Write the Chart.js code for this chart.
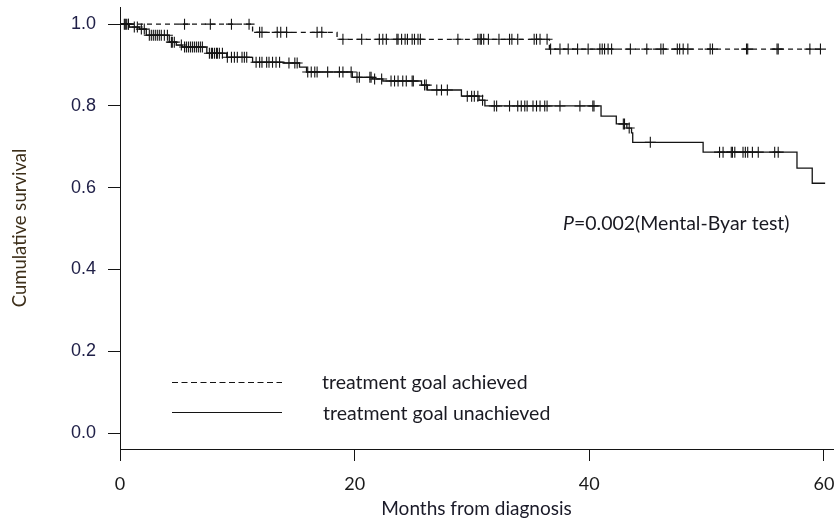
<!DOCTYPE html>
<html>
<head>
<meta charset="utf-8">
<title>Cumulative survival by treatment goal</title>
<script src="https://cdn.jsdelivr.net/npm/chart.js@4.4.1/dist/chart.umd.min.js"></script>
<style>
  html, body { margin: 0; padding: 0; background: #fff; }
  #wrap { width: 835px; height: 524px; }
</style>
</head>
<body>
<div id="wrap"><canvas id="kmChart" width="835" height="524"></canvas></div>
<script>
// axis ticks
const monthTicks = [0, 20, 40, 60];
const survivalTicks = [0, 0.2, 0.4, 0.6, 0.8, 1.0];

// treatment goal achieved: step times (months) and survival level after each step
const achievedTimes = [0, 11.3, 18.5, 36.6, 59.8];
const achievedSurvival = [1.0, 0.980, 0.963, 0.939, 0.939];
const achievedCensored = [
  0.45, 0.71, 5.5, 7.7, 9.5, 11.0,
  11.9, 12.1, 13.4, 13.7, 14.2, 16.8, 17.2,
  19.0, 20.6, 22.1, 22.4, 22.7, 23.6, 23.7, 24.0, 24.3, 24.5, 24.9, 25.1, 25.4, 25.6,
  28.8, 30.5, 30.7, 30.8, 31.0, 31.4, 32.3, 33.2, 33.4, 33.9, 35.3, 35.5, 35.8, 36.4,
  36.7, 37.5, 38.2, 39.0, 39.9, 40.9, 41.1, 41.3, 41.6, 41.9, 43.5, 44.9, 46.1, 46.3,
  47.5, 47.7, 48.0, 48.4, 50.3, 50.5, 53.4, 53.5, 56.0, 56.1, 58.8, 59.7
];

// treatment goal unachieved
const unachievedTimes = [
  0, 0.79, 1.65, 2.24, 4.2, 4.8, 5.3, 7.4, 9.1, 11.3, 13.9, 15.3, 15.9,
  19.8, 21.5, 22.4, 25.7, 26.2, 29.1, 30.6, 31.1, 41.0, 42.3, 43.2, 43.6, 43.7,
  49.7, 57.7, 59.0, 60.1
];
const unachievedSurvival = [
  1.0, 0.993, 0.988, 0.973, 0.956, 0.949, 0.944, 0.929, 0.919, 0.907, 0.905, 0.895, 0.883,
  0.870, 0.866, 0.861, 0.851, 0.839, 0.824, 0.814, 0.800, 0.775, 0.756, 0.746, 0.734, 0.711,
  0.687, 0.648, 0.611, 0.611
];
const unachievedCensored = [
  0.37, 0.54, 0.71, 1.22, 1.48, 1.82, 2.07, 2.50, 2.67, 2.84, 3.01, 3.18, 3.35, 3.52,
  3.78, 4.04, 4.38, 4.46, 4.63, 5.23, 5.5, 5.66, 5.83, 6.0, 6.17, 6.34, 6.51, 6.68, 6.85, 7.02,
  7.62, 7.79, 7.88, 8.05, 8.22, 8.3, 8.47, 8.73, 9.15, 9.5, 9.75, 10.0, 10.4, 10.6, 10.8,
  11.6, 11.9, 12.1, 12.5, 12.7, 13.0, 13.3, 13.6, 14.4, 14.9, 15.1, 16.0, 16.3, 16.6, 16.8,
  17.7, 18.7, 19.0, 19.7, 20.2, 20.4, 21.3, 21.4, 21.7, 22.3, 23.1, 23.4, 23.7, 24.1, 24.4,
  24.9, 25.0, 25.96, 26.1, 27.0, 27.4, 27.9, 29.6, 29.97, 30.2, 30.5, 30.9, 31.9, 32.1, 33.2,
  33.9, 34.2, 34.5, 34.7, 35.2, 35.5, 35.8, 36.2, 36.4, 37.5, 39.2, 40.3, 40.4, 42.9, 43.0,
  43.4, 45.2, 51.1, 51.4, 52.1, 52.2, 52.4, 53.1, 53.3, 53.5, 53.9, 54.4, 55.8, 56.1
];

const pText = '=0.002(Mental-Byar test)';
const legendLabels = ['treatment goal achieved', 'treatment goal unachieved'];

const INK = '#141414';

function stepPoints(times, surv) {
  return times.map((t, i) => ({ x: t, y: surv[i] }));
}

// survival level of the curve at a censoring time
function survivalAt(times, surv, t) {
  let s = surv[0];
  for (let i = 0; i < times.length; i++) {
    if (times[i] <= t) s = surv[i];
  }
  return s;
}

function censorPoints(censored, times, surv) {
  return censored.map(t => ({ x: t, y: survivalAt(times, surv, t) }));
}

// no extra room for tick labels, the plot box is fixed
function noScalePadding(scale) {
  scale.paddingTop = 0;
  scale.paddingBottom = 0;
  scale.paddingLeft = 0;
  scale.paddingRight = 0;
}

// legend and p-value text drawn inside the plot
const annotations = {
  id: 'kmAnnotations',
  afterDraw(chart) {
    const ctx = chart.ctx;
    ctx.save();
    ctx.strokeStyle = INK;
    ctx.lineWidth = 1.2;

    ctx.setLineDash([6, 3.5]);
    ctx.beginPath();
    ctx.moveTo(172, 382.5);
    ctx.lineTo(282, 382.5);
    ctx.stroke();

    ctx.setLineDash([]);
    ctx.beginPath();
    ctx.moveTo(172, 412.5);
    ctx.lineTo(282, 412.5);
    ctx.stroke();

    ctx.fillStyle = '#1a1a22';
    ctx.textBaseline = 'middle';
    ctx.font = '19.5px Lato';
    ctx.fillText(legendLabels[0], 322, 383);
    ctx.fillText(legendLabels[1], 323, 414);

    ctx.font = 'italic 19.5px Lato';
    ctx.fillText('P', 563, 224);
    const w = ctx.measureText('P').width;
    ctx.font = '19.5px Lato';
    ctx.fillText(pText, 563 + w, 224);
    ctx.restore();
  }
};

const ctx = document.getElementById('kmChart').getContext('2d');

new Chart(ctx, {
  type: 'line',
  data: {
    datasets: [
      {
        label: legendLabels[0],
        data: stepPoints(achievedTimes, achievedSurvival),
        stepped: 'before',
        borderColor: INK,
        borderWidth: 1.3,
        borderDash: [5, 4],
        pointRadius: 0,
        fill: false
      },
      {
        label: legendLabels[1],
        data: stepPoints(unachievedTimes, unachievedSurvival),
        stepped: 'before',
        borderColor: INK,
        borderWidth: 1.3,
        pointRadius: 0,
        fill: false
      },
      {
        label: 'censored (achieved)',
        data: censorPoints(achievedCensored, achievedTimes, achievedSurvival),
        showLine: false,
        pointStyle: 'cross',
        pointRadius: 5.5,
        pointBorderWidth: 1.1,
        pointBorderColor: INK,
        borderColor: INK
      },
      {
        label: 'censored (unachieved)',
        data: censorPoints(unachievedCensored, unachievedTimes, unachievedSurvival),
        showLine: false,
        pointStyle: 'cross',
        pointRadius: 5.5,
        pointBorderWidth: 1.1,
        pointBorderColor: INK,
        borderColor: INK
      }
    ]
  },
  options: {
    responsive: false,
    animation: false,
    devicePixelRatio: 1,
    layout: {
      autoPadding: false,
      padding: { top: 7, right: 2, left: 0, bottom: 0 }
    },
    plugins: {
      legend: { display: false },
      tooltip: { enabled: false }
    },
    scales: {
      x: {
        type: 'linear',
        min: 0,
        max: 60.77,
        afterBuildTicks: scale => { scale.ticks = monthTicks.map(v => ({ value: v })); },
        afterFit: scale => { scale.height = 75; noScalePadding(scale); },
        grid: {
          drawOnChartArea: false,
          drawTicks: true,
          tickLength: 12,
          color: INK
        },
        border: { display: true, color: INK, width: 1 },
        ticks: {
          color: '#1a1a1a',
          padding: 12,
          maxRotation: 0,
          font: { family: 'Lato', size: 18 }
        },
        title: {
          display: true,
          text: 'Months from diagnosis',
          color: '#1a1a28',
          font: { family: 'Lato', size: 19 },
          padding: { top: 0, bottom: 4 }
        }
      },
      y: {
        type: 'linear',
        min: -0.039,
        max: 1.042,
        afterBuildTicks: scale => { scale.ticks = survivalTicks.map(v => ({ value: v })); },
        afterFit: scale => { scale.width = 120; noScalePadding(scale); },
        grid: {
          drawOnChartArea: false,
          drawTicks: true,
          tickLength: 12,
          color: INK
        },
        border: { display: true, color: INK, width: 1 },
        ticks: {
          color: '#202048',
          padding: 12,
          font: { family: 'Liberation Sans', size: 18 },
          callback: v => v.toFixed(1)
        },
        title: {
          display: true,
          text: 'Cumulative survival',
          color: '#3d2f1a',
          font: { family: 'Lato', size: 18.5 },
          padding: { top: 9, bottom: 0 }
        }
      }
    }
  },
  plugins: [annotations]
});
</script>
</body>
</html>
